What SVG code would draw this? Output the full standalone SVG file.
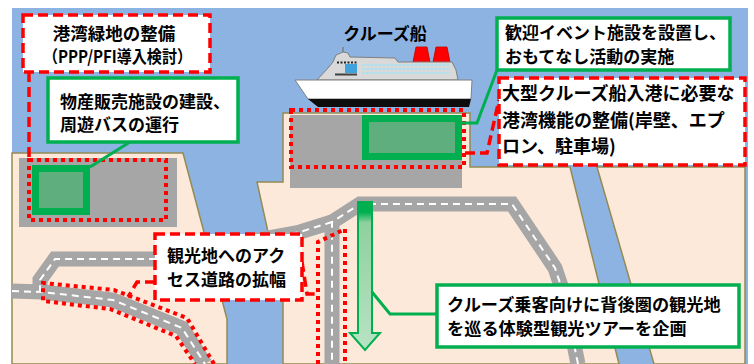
<svg xmlns="http://www.w3.org/2000/svg" width="754" height="364" viewBox="0 0 754 364">
  <style>
    .sea { fill: #8db3e2; }
    .land { fill: #fde9d9; stroke: #948a54; stroke-width: 1.5; stroke-linejoin: miter; }
    .pad { fill: #a6a6a6; }
    .road { fill: none; stroke: #a6a6a6; stroke-width: 15; stroke-linejoin: miter; }
    .lane { fill: none; stroke: #ffffff; stroke-width: 2; stroke-dasharray: 7 5; }
    .dot { fill: none; stroke: #ff0000; stroke-width: 4; stroke-dasharray: 4 4; }
    .dash { fill: none; stroke: #ff0000; stroke-width: 3.5; stroke-dasharray: 10 5; }
    .gbox { fill: #ffffff; stroke: #00b050; stroke-width: 3.5; }
    .rbox { fill: #ffffff; stroke: #ff0000; stroke-width: 3.5; stroke-dasharray: 10 5; }
    .gline { fill: none; stroke: #00b050; stroke-width: 3; }
    .site { fill: #5fae7e; stroke: #00b050; stroke-width: 7; }
    .t { font-family: "Noto Sans CJK JP", "Noto Sans", sans-serif; font-weight: bold; font-size: 17px; fill: #000000; }
  </style>
  <defs>
    <linearGradient id="arrowFill" x1="0" y1="0" x2="0" y2="1">
      <stop offset="0" stop-color="#00b050"/>
      <stop offset="0.07" stop-color="#00b050"/>
      <stop offset="0.14" stop-color="#8fd0a0"/>
      <stop offset="1" stop-color="#b8e3c3"/>
    </linearGradient>
  </defs>

  <rect width="754" height="364" fill="#ffffff"/>

  <!-- water and land -->
  <g id="map">
    <rect class="sea" x="12" y="8" width="736" height="356"/>
    <polygon class="land" points="12,153 183,153 227,319 227,364 12,364"/>
    <polygon class="land" points="283,113 470,113 470,167 570,167 619,364 283,364 283,300 257,182 283,182"/>
    <polygon class="land" points="597,167 745,167 745,364 654,364"/>
    <rect class="pad" x="19" y="158" width="158" height="69"/>
    <rect class="pad" x="290" y="115" width="172" height="73"/>
  </g>

  <!-- cruise ship -->
  <g id="ship">
    <polygon points="413,62 416,47 427,47 430,62" fill="#ff0000" stroke="#c00000" stroke-width="0.8"/>
    <polygon points="433,62 436,47 447,47 450,62" fill="#ff0000" stroke="#c00000" stroke-width="0.8"/>
    <polygon points="317,80 328,68 333,62 336,55 343,52 348,53 350,57 395,58 398,62 452,62 456,70 458,80" fill="#d9d9d9" stroke="#7f7f7f" stroke-width="1"/>
    <line x1="343" y1="52" x2="343" y2="47" stroke="#7f7f7f" stroke-width="1.5"/>
    <line x1="337" y1="62.5" x2="357" y2="62.5" stroke="#222" stroke-width="2" stroke-dasharray="2 1.5"/>
    <rect x="345" y="64" width="12" height="9" fill="#3fa2dc"/>
    <rect x="335" y="73.5" width="22" height="2" fill="#404040"/>
    <g stroke="#b7dde8" stroke-width="2" stroke-dasharray="3 1">
      <line x1="362" y1="65" x2="450" y2="65"/>
      <line x1="362" y1="69" x2="450" y2="69"/>
      <line x1="362" y1="73" x2="450" y2="73"/>
    </g>
    <polygon points="295,80 472,80 471,99 308,99" fill="#ffffff" stroke="#7f7f7f" stroke-width="1"/>
    <polygon points="308,99 471,99 469,107 318,107" fill="#0d0d0d"/>
  </g>

  <!-- roads -->
  <g id="roads">
    <path class="road" d="M578,364 L564,295 L555,268 L512,204 L360,204 L332,222 L332,364"/>
    <path class="road" d="M332,222 L300,232 L157,259 L55,259 L40,280 L40,292"/>
    <path class="road" d="M12,291 L42,292 L113,300 L182,328 L205,364"/>
    <path class="lane" d="M578,364 L564,295 L555,268 L512,204 L360,204 L332,222 L332,364"/>
    <path class="lane" d="M332,222 L300,232 L157,259 L55,259 L40,280 L40,292"/>
    <path class="lane" d="M12,291 L42,292 L113,300 L182,328 L205,364"/>
  </g>

  <!-- project sites -->
  <g id="site-left">
    <rect class="dot" x="29" y="160" width="137" height="60"/>
    <rect class="site" x="35.5" y="168.5" width="51" height="43"/>
  </g>
  <g id="site-terminal">
    <rect class="dot" x="291" y="110" width="173" height="57"/>
    <rect class="site" x="365.5" y="118.5" width="93" height="38"/>
  </g>
  <g id="road-widening">
    <path class="dot" d="M214,364 L187,318 L114,290 L43,283 L43,301 L110,309 L176,336 L195,364"/>
    <path class="dot" d="M318,364 L318,242 L345,229 L345,364"/>
  </g>
  <g id="tour-arrow">
    <polygon points="358,202 372,202 372,333 380,333 365,350 350,333 358,333" fill="url(#arrowFill)" stroke="#00b050" stroke-width="2"/>
  </g>

  <!-- leader lines -->
  <g id="connectors">
    <path class="dash" d="M29,72 L29,160"/>
    <path class="gline" d="M130,142 L90,167"/>
    <path class="gline" d="M462,123 L477,123 L497,70"/>
    <path class="dash" d="M465,153 L487,153 L499,100"/>
    <path class="dash" d="M155,282 L137,282 L128,297"/>
    <path class="dash" d="M302,262 L307,294 L318,294"/>
    <path class="gline" d="M372,292 L390,314 L437,314"/>
  </g>

  <!-- labels -->
  <g id="label-greenpark">
    <rect class="rbox" x="23" y="15" width="187" height="57"/>
    <text class="t" x="114" y="40" text-anchor="middle" style="font-size:17.5px">港湾緑地の整備</text>
    <text class="t" x="117.5" y="63" text-anchor="middle" textLength="149" lengthAdjust="spacingAndGlyphs">（PPP/PFI導入検討）</text>
  </g>
  <g id="label-market">
    <rect class="gbox" x="48" y="78" width="190" height="64"/>
    <text class="t" x="60" y="108">物産販売施設の建設、</text>
    <text class="t" x="60" y="131">周遊バスの運行</text>
  </g>
  <g id="label-ship">
    <text class="t" x="385" y="40" text-anchor="middle">クルーズ船</text>
  </g>
  <g id="label-welcome">
    <rect class="gbox" x="497" y="18" width="233" height="52"/>
    <text class="t" x="505" y="39">歓迎イベント施設を設置し、</text>
    <text class="t" x="505" y="63">おもてなし活動の実施</text>
  </g>
  <g id="label-terminal">
    <rect class="rbox" x="499" y="78" width="246" height="87"/>
    <text class="t" x="502" y="100" style="font-size:18px">大型クルーズ船入港に必要な</text>
    <text class="t" x="502" y="127" style="font-size:18px">港湾機能の整備(岸壁、エプ</text>
    <text class="t" x="502" y="153" style="font-size:18px">ロン、駐車場)</text>
  </g>
  <g id="label-access">
    <rect class="rbox" x="155" y="234" width="147" height="66"/>
    <text class="t" x="167" y="262">観光地へのアク</text>
    <text class="t" x="167" y="286">セス道路の拡幅</text>
  </g>
  <g id="label-tour">
    <rect class="gbox" x="437" y="285" width="302" height="62"/>
    <text class="t" x="447" y="311" style="font-size:17.2px">クルーズ乗客向けに背後圏の観光地</text>
    <text class="t" x="447" y="335" style="font-size:17.2px">を巡る体験型観光ツアーを企画</text>
  </g>
</svg>
